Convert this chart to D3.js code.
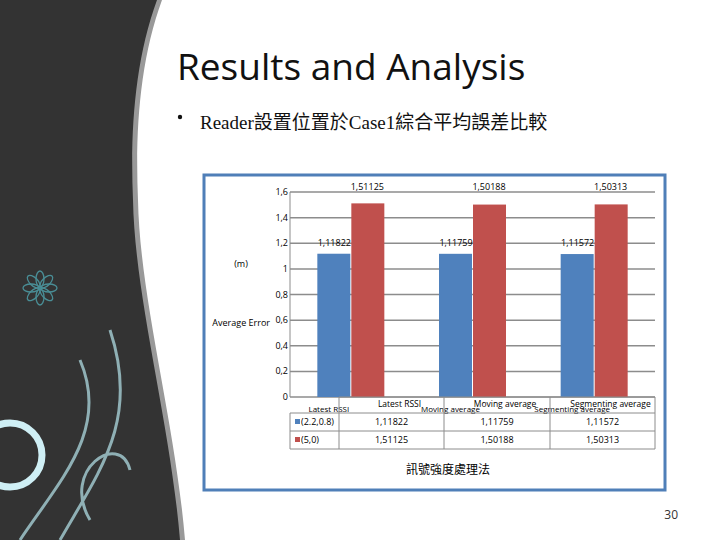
<!DOCTYPE html><html><head><meta charset="utf-8"><script src="https://cdn.jsdelivr.net/npm/d3@7"></script>
<style>body{margin:0;background:#fff}svg{display:block}</style></head><body><svg id="c" width="720" height="540"></svg>
<script>
const categories=["Latest RSSI","Moving average","Segmenting average"];
const seriesNames=["(2.2,0.8)","(5,0)"];
const series1=[1.11822,1.11759,1.11572];
const series2=[1.51125,1.50188,1.50313];
const labels1=["1,11822","1,11759","1,11572"];
const labels2=["1,51125","1,50188","1,50313"];
const yTicks=[0,0.2,0.4,0.6,0.8,1,1.2,1.4,1.6];
const colors=["#4f81bd","#c0504d"];
const svg=d3.select("#c");
svg.append("path").attr("d","M0,0 L162,0 C140,60 135,130 138,200 C140,300 175,420 185,540 L0,540 Z").attr("fill","#999");
svg.append("path").attr("d","M0,0 L157,0 C135,60 130,130 133,200 C135,300 170,420 180,540 L0,540 Z").attr("fill","#333");
const fl=svg.append("g").attr("fill","none").attr("stroke","#4a8e96").attr("stroke-width",1.3);
for(let i=0;i<8;i++){const a=i*Math.PI/4;fl.append("ellipse").attr("cx",40+Math.cos(a)*9).attr("cy",288+Math.sin(a)*9).attr("rx",4).attr("ry",8).attr("transform",`rotate(${i*45+90},${40+Math.cos(a)*9},${288+Math.sin(a)*9})`);}
svg.append("circle").attr("cx",10).attr("cy",455).attr("r",32).attr("fill","none").attr("stroke","#cfeff5").attr("stroke-width",7);
svg.append("path").attr("d","M20,540 C60,480 110,430 80,360 M60,540 C100,470 140,420 110,330 M90,520 C60,470 120,430 130,470").attr("fill","none").attr("stroke","#8fb0b5").attr("stroke-width",3);
svg.append("text").attr("x",177).attr("y",80).attr("font-family","Open Sans, sans-serif").attr("font-size",37).attr("fill","#111").text("Results and Analysis");
svg.append("circle").attr("cx",180).attr("cy",117).attr("r",2.2).attr("fill","#111");
svg.append("text").attr("x",200).attr("y",129).attr("font-family","Liberation Serif, Noto Sans CJK TC").attr("font-size",19).attr("fill","#111").text("Reader設置位置於Case1綜合平均誤差比較");
svg.append("text").attr("x",678).attr("y",519).attr("text-anchor","end").attr("font-family","Open Sans").attr("font-size",12).attr("fill","#333").text("30");
svg.append("rect").attr("x",204).attr("y",175).attr("width",461).attr("height",315).attr("fill","#fff").attr("stroke","#4f7fb8").attr("stroke-width",3);
const L=290,R=655,T=192,B=397;
const x=d3.scaleBand().domain(categories).range([L,R]);
const y=d3.scaleLinear().domain([0,1.6]).range([B,T]);
const g=svg.append("g").attr("font-family","Open Sans, sans-serif").attr("font-size",9).attr("fill","#000");
yTicks.forEach(t=>{g.append("line").attr("x1",L).attr("x2",R).attr("y1",y(t)).attr("y2",y(t)).attr("stroke","#8c8c8c").attr("stroke-width",1.5);
 g.append("text").attr("x",L-2).attr("y",y(t)+3).attr("text-anchor","end").text(d3.format(".1f")(t).replace(".0","").replace(".",","));});
g.append("line").attr("x1",L).attr("x2",L).attr("y1",T).attr("y2",B).attr("stroke","#8c8c8c");
const bw=33;
categories.forEach((c,i)=>{const cx=x(c)+x.bandwidth()/2;
 g.append("rect").attr("x",cx-bw-0.5).attr("y",y(series1[i])).attr("width",bw).attr("height",B-y(series1[i])).attr("fill",colors[0]);
 g.append("rect").attr("x",cx+0.5).attr("y",y(series2[i])).attr("width",bw).attr("height",B-y(series2[i])).attr("fill",colors[1]);
 g.append("text").attr("x",cx-bw/2).attr("y",y(1.2)+3).attr("text-anchor","middle").text(labels1[i]);
 g.append("text").attr("x",cx+bw/2).attr("y",y(1.6)-2).attr("text-anchor","middle").text(labels2[i]);});
g.append("text").attr("x",241).attr("y",267).attr("text-anchor","middle").text("(m)");
g.append("text").attr("x",270).attr("y",326).attr("text-anchor","end").text("Average Error");
const cols=[L,339,444,550,R],rows=[B,413,431,449];
const tl=svg.append("g").attr("stroke","#8c8c8c").attr("stroke-width",1);
rows.forEach((r,i)=>tl.append("line").attr("x1",i==0?cols[1]:L).attr("x2",R).attr("y1",r).attr("y2",r));
cols.forEach((c,i)=>tl.append("line").attr("x1",c).attr("x2",c).attr("y1",i==0?rows[1]:B).attr("y2",449));
categories.forEach((c,i)=>{const m=(cols[i+1]+cols[i+2])/2;
 g.append("text").attr("x",m+8).attr("y",407).attr("text-anchor","middle").attr("font-size",8.5).text(c);
 g.append("text").attr("x",x(c)+x.bandwidth()/2-22).attr("y",412).attr("text-anchor","middle").attr("font-size",8).text(c);
 g.append("text").attr("x",m).attr("y",425).attr("text-anchor","middle").text(labels1[i]);
 g.append("text").attr("x",m).attr("y",443).attr("text-anchor","middle").text(labels2[i]);});
seriesNames.forEach((s,i)=>{g.append("rect").attr("x",295).attr("y",rows[i+1]+6).attr("width",5).attr("height",5).attr("fill",colors[i]);
 g.append("text").attr("x",301).attr("y",rows[i+1]+12).text(s);});
svg.append("text").attr("x",448).attr("y",474).attr("text-anchor","middle").attr("font-family","Noto Sans CJK TC").attr("font-size",12).text("訊號強度處理法");
</script></body></html>
